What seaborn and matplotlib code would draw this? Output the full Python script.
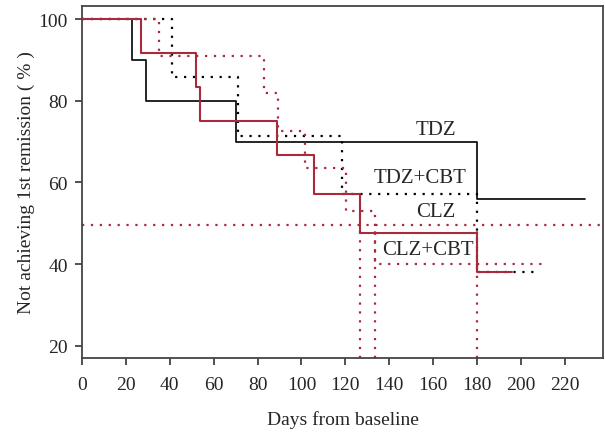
import matplotlib
matplotlib.use("Agg")
import matplotlib.pyplot as plt
import pandas
import seaborn

# event days (step drops) and the % not yet in remission after each drop
TDZ_DAYS = [23, 29, 70, 180]
TDZ_PCT = [90.0, 80.0, 70.0, 56.0]
TDZ_END = 229

TDZ_CBT_DAYS = [41, 71, 118.5, 180]
TDZ_CBT_PCT = [85.7, 71.4, 57.1, 38.1]
TDZ_CBT_END = 207

CLZ_DAYS = [27, 52, 54, 89, 105.5, 126.5, 180]
CLZ_PCT = [91.7, 83.3, 75.0, 66.7, 57.1, 47.6, 38.1]
CLZ_END = 196

CLZ_CBT_DAYS = [35, 83, 89.5, 101.6, 120.5, 133.4]
CLZ_CBT_PCT = [90.9, 81.8, 72.7, 63.6, 53.0, 40.0]
CLZ_CBT_END = 210.5

MEDIAN_LEVEL = 49.5
MEDIAN_DAYS = [126.5, 133.4, 180]

X_TICKS = list(range(0, 221, 20))
Y_TICKS = [20, 40, 60, 80, 100]

# label text, x, y (data coords)
LABELS = [
    ("TDZ", 161.5, 73.0),
    ("TDZ+CBT", 154.0, 61.3),
    ("CLZ", 161.0, 52.9),
    ("CLZ+CBT", 157.5, 43.6),
]

RED = "#a82a3c"
DOT = (0, (1, 3))


def steps(days, pct, end, name):
    xs = [0] + list(days) + [end]
    ys = [100.0] + list(pct) + [pct[-1]]
    return pandas.DataFrame({"day": xs, "pct": ys, "group": name})


def draw_graph():
    seaborn.set_style("ticks")
    plt.rcParams["font.family"] = ["Liberation Serif", "DejaVu Serif"]

    fig = plt.figure(figsize=(6.05, 4.35), dpi=100)
    ax = fig.add_axes([0.1355, 0.1747, 0.8612, 0.8092])

    curves = [
        (steps(TDZ_DAYS, TDZ_PCT, TDZ_END, "TDZ"), "black", "-", 1.2, 3),
        (steps(TDZ_CBT_DAYS, TDZ_CBT_PCT, TDZ_CBT_END, "TDZ+CBT"), "black", DOT, 1.6, 4),
        (steps(CLZ_CBT_DAYS, CLZ_CBT_PCT, CLZ_CBT_END, "CLZ+CBT"), RED, DOT, 1.6, 5),
        (steps(CLZ_DAYS, CLZ_PCT, CLZ_END, "CLZ"), RED, "-", 1.5, 6),
    ]
    for df, color, ls, lw, z in curves:
        seaborn.lineplot(data=df, x="day", y="pct", color=color, linestyle=ls,
                         linewidth=lw, drawstyle="steps-post", estimator=None,
                         zorder=z, ax=ax)

    ymin, ymax = 17.0, 103.2
    ax.axhline(MEDIAN_LEVEL, color=RED, linestyle=DOT, linewidth=1.6, zorder=2)
    ax.vlines(MEDIAN_DAYS, ymin, MEDIAN_LEVEL, colors=RED, linestyles=[DOT],
              linewidth=1.6, zorder=2)

    for text, x, y in LABELS:
        ax.text(x, y, text, ha="center", va="center", fontsize=15, zorder=7)

    ax.set_xlim(0, 237.4)
    ax.set_ylim(ymin, ymax)
    ax.set_xticks(X_TICKS)
    ax.set_yticks(Y_TICKS)
    ax.tick_params(axis="both", direction="out", length=5, width=1.2,
                   labelsize=14, color="#333333")
    ax.tick_params(axis="x", pad=8)
    ax.tick_params(axis="y", pad=5)
    for sp in ax.spines.values():
        sp.set_visible(True)
        sp.set_color("#444444")
        sp.set_linewidth(1.3)

    ax.set_xlabel("Days from baseline", fontsize=14, labelpad=12)
    ax.set_ylabel("Not achieving 1st remission ( % )", fontsize=14, labelpad=3)

    fig.savefig("out.png", dpi=100)


draw_graph()
